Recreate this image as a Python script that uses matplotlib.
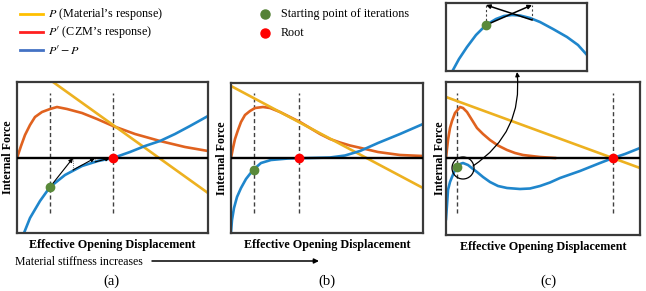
import matplotlib
matplotlib.use("Agg")
from matplotlib import pyplot as plt
from matplotlib.patches import Circle

plt.rcParams['font.family'] = ['Liberation Serif', 'DejaVu Serif']
plt.rcParams['mathtext.fontset'] = 'stix'

W, H = 646, 291

# curve colours in the panels
C_BLUE, C_ORANGE, C_YELLOW = '#1f86cc', '#e0621f', '#edb120'
C_GREEN, C_RED = '#5a8a3a', '#ff0000'

# legend entries (colours in the legend differ a little from the curves)
leg_line_labels = [r"$P$ (Material’s response)", r"$P\prime$ (CZM’s response)", r"$P\prime - P$"]
leg_line_colors = ['#ffc000', '#ff2020', '#4472c4']
leg_dot_labels = ['Starting point of iterations', 'Root']
leg_dot_colors = ['#548235', '#ff0000']

# ---- panel (a) : displacement (px from box left), force (px above axis)
a_czm_x = [0, 4, 8, 13, 18, 25, 33, 40, 50, 65, 80, 96, 118, 143, 168, 191]
a_czm_y = [0, 12, 23, 33, 41, 46, 49, 51, 49, 45, 39, 32, 24, 17, 11, 7]
a_mat_x = [36, 191]
a_mat_y = [76, -35]
a_res_x = [7, 13, 23, 33, 48, 65, 81, 96, 113, 128, 143, 158, 173, 191]
a_res_y = [-75, -60, -43, -29, -17, -8, -3, 0, 6, 12, 17, 24, 32, 42]
a_start = (33, -29)
a_root = (96, 0)
a_iter_x = [33, 56, 78, 93]
a_iter_f = [-29, -12, -4, -0.5]

# ---- panel (b)
b_czm_x = [0, 2, 4, 7, 10, 14, 19, 24, 32, 39, 49, 59, 69, 79, 89, 99, 109, 119, 130, 147, 169, 192]
b_czm_y = [0, 10, 19, 28, 36, 43, 47, 50, 51, 50, 46, 41, 36, 30, 24, 19, 15.5, 12.5, 10, 6, 3, 2]
b_mat_x = [0, 192]
b_mat_y = [72, -30]
b_res_x = [0, 1, 3, 6, 10, 15, 22, 30, 40, 57, 79, 99, 114, 129, 147, 169, 192]
b_res_y = [-74, -62, -50, -39, -30, -21, -12, -5, -2, -0.5, 0, 0.5, 2.5, 7, 15, 24, 34]
b_start = (23, -12)
b_root = (68, 0)

# ---- panel (c)
c_czm_x = [0, 2, 4, 6, 9, 14, 17, 21, 26, 31, 37, 44, 52, 61, 69, 77, 94, 109]
c_czm_y = [0, 18, 30, 37, 45, 51, 50, 46, 38, 30, 24, 18, 12.5, 8, 5, 3, 1, 0]
c_mat_x = [0, 194]
c_mat_y = [61, -10]
c_res_x = [0, 1, 2, 4, 6, 9, 11, 14, 17, 22, 27, 31, 37, 44, 52, 61, 74, 84, 94, 104, 114, 134, 154, 167, 179, 194]
c_res_y = [-61, -47, -32, -24, -19, -12, -9, -6, -5, -7, -11, -14, -19, -24, -28, -30, -31, -30.5,
           -28, -24.5, -20, -13, -5, 0, 4, 10]
c_start = (11, -9)
c_root = (167, 0)

# ---- zoomed inset of (c)
z_res_x = [7, 13, 21, 30, 40, 50, 58, 66, 74, 84, 94, 107, 121, 132, 141]
z_res_y = [1, 12, 24, 36, 46, 52, 55, 56, 55.5, 53, 49, 42, 34, 26, 16]
z_start = (40, 46)
z_iter_x = [40, 86, 40]
z_iter_f = [46, 51, 46]
z_top = 66

fig = plt.figure(figsize=(W / 100, H / 100), dpi=100)


def box_axes(l, t, r, b, ybot, ytop):
    ax = fig.add_axes([l / W, 1 - b / H, (r - l) / W, (b - t) / H])
    ax.set_xlim(0, r - l)
    ax.set_ylim(ybot, ytop)
    ax.set_xticks([])
    ax.set_yticks([])
    for s in ax.spines.values():
        s.set_color('#3a3a3a')
        s.set_linewidth(1.6)
    return ax


def arrow(ax, p0, p1, lw=0.9):
    ax.annotate('', xy=p1, xytext=p0,
                arrowprops=dict(arrowstyle='-|>', lw=lw, color='k', mutation_scale=6,
                                shrinkA=0, shrinkB=0))


def panel(ax, czm, mat, res, start, root):
    ax.plot(*czm, color=C_ORANGE, lw=1.9, zorder=2)
    ax.plot(*mat, color=C_YELLOW, lw=1.9, zorder=2)
    ax.plot(*res, color=C_BLUE, lw=1.9, zorder=2)
    ax.axhline(0, color='k', lw=1.7, zorder=3)
    ax.vlines([start[0], root[0]], -55, 65, colors='#404040', lw=1,
              linestyles=(0, (3, 2)), zorder=1)
    ax.plot(*start, 'o', color=C_GREEN, ms=6, zorder=5)
    ax.plot(*root, 'o', color=C_RED, ms=6, zorder=5)
    ax.set_xlabel('Effective Opening Displacement', fontsize=8.7, fontweight='bold', labelpad=4)
    ax.set_ylabel('Internal Force', fontsize=8.6, fontweight='bold', labelpad=2)


ax_a = box_axes(17, 82, 208, 233, -75, 76)
panel(ax_a, (a_czm_x, a_czm_y), (a_mat_x, a_mat_y), (a_res_x, a_res_y), a_start, a_root)
for i in range(len(a_iter_x) - 1):
    arrow(ax_a, (a_iter_x[i], a_iter_f[i]), (a_iter_x[i + 1], 0), lw=0.8)
    ax_a.plot([a_iter_x[i + 1]] * 2, [0, a_iter_f[i + 1]], color='#404040', lw=0.6, ls=':')

ax_b = box_axes(231, 83, 423, 233, -75, 75)
panel(ax_b, (b_czm_x, b_czm_y), (b_mat_x, b_mat_y), (b_res_x, b_res_y), b_start, b_root)

ax_c = box_axes(446, 82, 640, 235, -77, 76)
panel(ax_c, (c_czm_x, c_czm_y), (c_mat_x, c_mat_y), (c_res_x, c_res_y), c_start, c_root)
ax_c.yaxis.labelpad = 0
ax_c.add_patch(Circle((17, -10), 11, fill=False, ec='k', lw=0.9, zorder=6))

ax_z = box_axes(446, 3, 587, 71, 0, 68)
ax_z.plot(z_res_x, z_res_y, color=C_BLUE, lw=1.9)
ax_z.plot(*z_start, 'o', color=C_GREEN, ms=6, zorder=5)
ax_z.vlines(z_iter_x[:2], z_iter_f[:2], z_top, colors='#404040', lw=0.8,
            linestyles=(0, (2, 2)))
for i in range(len(z_iter_x) - 1):
    arrow(ax_z, (z_iter_x[i], z_iter_f[i]), (z_iter_x[i + 1], z_top), lw=1.1)

# overlay in pixel space for the legend and annotations
ov = fig.add_axes([0, 0, 1, 1], zorder=10)
ov.set_xlim(0, W)
ov.set_ylim(H, 0)
ov.axis('off')

for k, (lab, col) in enumerate(zip(leg_line_labels, leg_line_colors)):
    y = 14 + k * 18
    ov.plot([20, 43], [y, y], color=col, lw=2)
    ov.text(48, y, lab, fontsize=8.7, ha='left', va='center')
for k, (lab, col) in enumerate(zip(leg_dot_labels, leg_dot_colors)):
    y = 14 + k * 19
    ov.plot(265, y, 'o', color=col, ms=6.5)
    ov.text(281, y, lab, fontsize=8.7, ha='left', va='center')

ov.annotate('', xy=(517, 72), xytext=(473, 166),
            arrowprops=dict(arrowstyle='-|>', lw=0.9, color='k', mutation_scale=6,
                            shrinkA=0, shrinkB=0, connectionstyle='arc3,rad=0.3'))
ov.text(15, 262, 'Material stiffness increases', fontsize=8.5, ha='left', va='center')
ov.annotate('', xy=(319, 261), xytext=(152, 261),
            arrowprops=dict(arrowstyle='-|>', lw=1.1, color='k', mutation_scale=7,
                            shrinkA=0, shrinkB=0))
for lab, x in zip(['(a)', '(b)', '(c)'], [111, 327, 548]):
    ov.text(x, 281, lab, fontsize=10.5, ha='center', va='center')

fig.savefig('out.png', dpi=100)
